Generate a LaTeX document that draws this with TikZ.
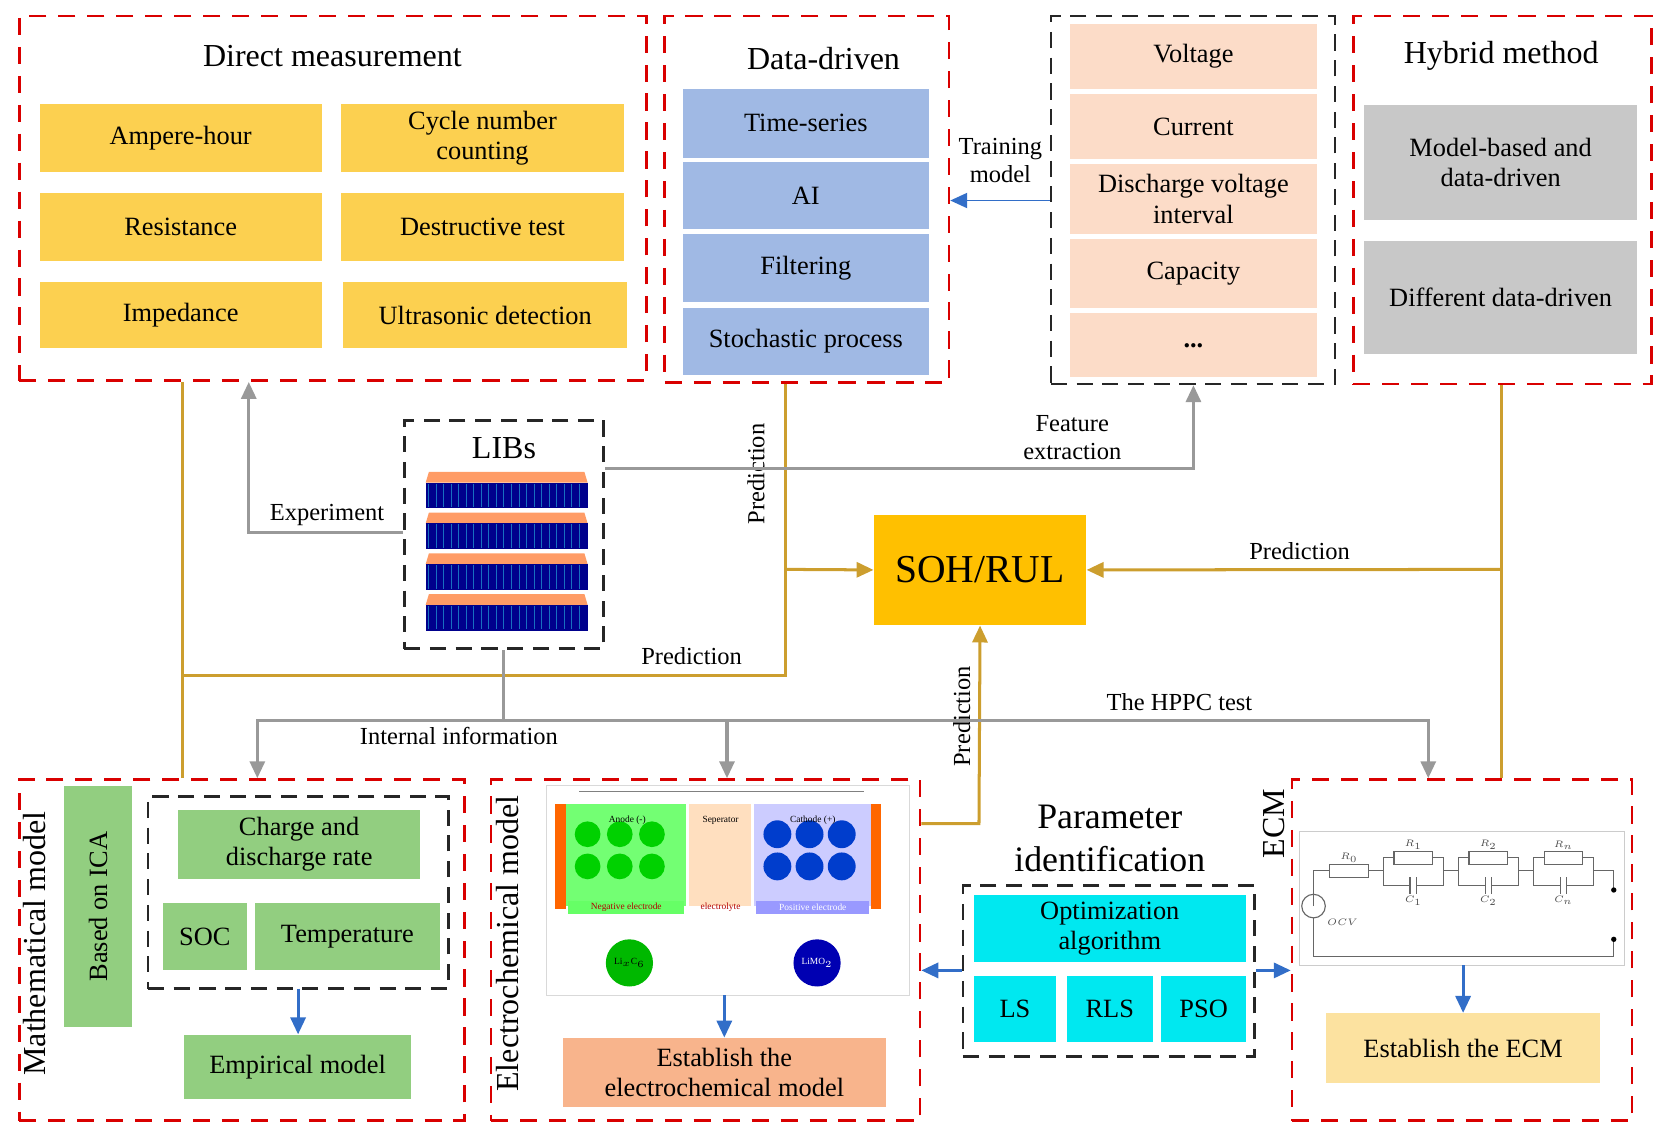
\documentclass[tikz,border=0pt]{standalone}
\usepackage{fontspec}
\setmainfont{Liberation Serif}
\usetikzlibrary{arrows.meta}
\definecolor{cyel}{RGB}{252,208,80}
\definecolor{cblu}{RGB}{160,185,228}
\definecolor{cpch}{RGB}{252,220,200}
\definecolor{cgry}{RGB}{200,200,200}
\definecolor{cgrn}{RGB}{146,206,128}
\definecolor{ccyn}{RGB}{0,232,240}
\definecolor{cgold}{RGB}{204,158,46}
\definecolor{csoh}{RGB}{255,192,0}
\definecolor{cblarr}{RGB}{50,110,200}
\definecolor{corg}{RGB}{248,180,140}
\definecolor{cecm}{RGB}{252,226,160}
\begin{document}
\begin{tikzpicture}[x=0.02cm,y=-0.02cm,
 reddash/.style={draw=red!85!black,line width=1.4pt,dash pattern=on 0.32cm off 0.22cm},
 blkdash/.style={draw=black!85,line width=1.4pt,dash pattern=on 0.3cm off 0.18cm},
 bx/.style={inner sep=1pt,align=center,font=\fontsize{14}{16}\selectfont},
 yel/.style={bx,fill=cyel},
 blu/.style={bx,fill=cblu},
 pch/.style={bx,fill=cpch},
 gry/.style={bx,fill=cgry},
 grn/.style={bx,fill=cgrn},
 cyn/.style={bx,fill=ccyn},
 ttl/.style={font=\fontsize{17}{19}\selectfont,align=center},
 lbl/.style={font=\fontsize{13}{15}\selectfont,align=center},
 gold/.style={draw=cgold,line width=1.6pt},
 goldarr/.style={gold,-{Triangle[length=9pt,width=8pt]}},
 garr/.style={draw=gray!80,line width=1.6pt,-{Triangle[length=9pt,width=8pt]}},
 barr/.style={draw=cblarr,line width=1.6pt,-{Triangle[length=9pt,width=8pt]}}]
\newcommand\bx[7]{\node[#6,minimum width={(#4-#2)*0.02cm},minimum height={(#5-#3)*0.02cm}] (#1) at ({(#2+#4)/2},{(#3+#5)/2}) {#7};}
\useasboundingbox (0,0) rectangle (1550,1046);
% ---- top frames
\bx{dm}{18}{15}{603}{355}{reddash}{}
\node[ttl] (dmt) at (310,52) {Direct measurement};
\bx{a1}{37}{97}{300}{160}{yel}{Ampere-hour}
\bx{a2}{318}{97}{582}{160}{yel}{Cycle number\\counting}
\bx{a3}{37}{180}{300}{243}{yel}{Resistance}
\bx{a4}{318}{180}{582}{243}{yel}{Destructive test}
\bx{a5}{37}{263}{300}{325}{yel}{Impedance}
\bx{a6}{320}{263}{585}{325}{yel}{Ultrasonic detection}
\bx{dd}{620}{15}{885}{357}{reddash}{}
\node[ttl] (ddt) at (768,55) {Data-driven};
\bx{b1}{637}{83}{866}{147}{blu}{Time-series}
\bx{b2}{637}{151}{866}{214}{blu}{AI}
\bx{b3}{637}{218}{866}{282}{blu}{Filtering}
\bx{b4}{637}{287}{866}{350}{blu}{Stochastic process}
\bx{fe}{980}{15}{1245}{358}{blkdash}{}
\bx{c1}{998}{22}{1228}{83}{pch}{Voltage}
\bx{c2}{998}{88}{1228}{148}{pch}{Current}
\bx{c3}{998}{153}{1228}{218}{pch}{Discharge voltage\\interval}
\bx{c4}{998}{223}{1228}{287}{pch}{Capacity}
\bx{c5}{998}{292}{1228}{352}{pch}{\textbf{...}}
\bx{hy}{1262}{15}{1540}{358}{reddash}{}
\node[ttl] (hyt) at (1400,52) {Hybrid method};
\bx{h1}{1272}{98}{1527}{205}{gry}{Model-based and\\data-driven}
\bx{h2}{1272}{225}{1527}{330}{gry}{Different data-driven}
\draw[barr,line width=1pt] (fe.west |- 0,187) -- (dd.east |- 0,187);
\node[lbl] (tm) at (933,150) {Training\\model};
% ---- LIBs
\bx{libs}{377}{392}{563}{605}{blkdash}{}
\node[ttl] (libt) at (470,418) {LIBs};
\foreach \yy in {440,478,516,554}{
 \fill[orange!70!red!60!white] (400,\yy) -- (545,\yy) -- (548,\yy+10) -- (397,\yy+10) -- cycle;
 \fill[blue!55!black] (397,\yy+10) rectangle (548,\yy+34);
 \foreach \xx in {400,407,...,545} \draw[cyan!50!blue,line width=0.5pt] (\xx,\yy+11) -- (\xx,\yy+33);
}
% ---- SOH
\bx{soh}{815}{480}{1013}{583}{bx,fill=csoh}{\fontsize{21}{24}\selectfont SOH/RUL}
% ---- bottom frames
\bx{mm}{18}{727}{433}{1045}{reddash}{}
\node[ttl,rotate=90] (mmt) at (32,880) {Mathematical model};
\bx{ica}{60}{733}{123}{958}{grn}{}
\node[bx,rotate=90] at (ica) {Based on ICA};
\bx{mi}{138}{743}{418}{922}{blkdash}{}
\bx{g1}{166}{755}{392}{820}{grn}{Charge and\\discharge rate}
\bx{g2}{152}{842}{230}{905}{grn}{SOC}
\bx{g3}{238}{842}{410}{905}{grn}{Temperature}
\bx{g4}{172}{965}{383}{1025}{grn}{Empirical model}
\draw[barr] (278,922) -- (g4.north -| 278,0);
\bx{em}{458}{727}{858}{1045}{reddash}{}
\node[ttl,rotate=90] (emt) at (473,880) {Electrochemical model};
\bx{img}{510}{732}{848}{928}{draw=gray!30,fill=white}{}
\fill[green!55!white] (528,750) rectangle (640,845);
\fill[orange!25!white] (643,750) rectangle (700,845);
\fill[blue!20!white] (703,750) rectangle (812,845);
\fill[orange!80!red] (518,750) rectangle (528,848);
\fill[orange!80!red] (812,750) rectangle (822,848);
\foreach \xx in {548,578,608}\foreach \yy in {778,808}\fill[green!70!black!60!green] (\xx,\yy) circle (12);
\foreach \xx in {725,755,785}\foreach \yy in {778,808}\fill[blue!70!cyan!80!black] (\xx,\yy) circle (13);
\node[font=\tiny] at (585,765) {Anode (-)};
\node[font=\tiny] at (672,765) {Seperator};
\node[font=\tiny] at (758,765) {Cathode (+)};
\fill[green!60!white] (530,840) rectangle (638,852);
\node[font=\tiny,text=red!70!black] at (584,846) {Negative electrode};
\node[font=\tiny,text=red!70!black] at (672,846) {electrolyte};
\fill[blue!40!white] (705,840) rectangle (810,852);
\node[font=\tiny,text=white] at (758,846) {Positive electrode};
\fill[green!60!black!70!green] (587,898) circle (22);
\node[font=\tiny] at (587,898) {Li$_x$C$_6$};
\fill[blue!70!black] (762,898) circle (22);
\node[font=\tiny,text=white] at (762,898) {LiMO$_2$};
\draw[gray,line width=0.4pt] (540,738) -- (806,738);
\bx{e1}{525}{968}{826}{1032}{bx,fill=corg}{Establish the\\electrochemical model}
\draw[barr] (e1.north |- img.south) -- (e1.north);
% parameter identification
\node[font=\fontsize{19}{23}\selectfont,align=center] (pit) at (1035,782) {Parameter\\identification};
\bx{pi}{898}{826}{1170}{985}{blkdash}{}
\bx{p1}{908}{835}{1162}{897}{cyn}{Optimization\\algorithm}
\bx{p2}{908}{910}{985}{972}{cyn}{LS}
\bx{p3}{995}{910}{1075}{972}{cyn}{RLS}
\bx{p4}{1083}{910}{1162}{972}{cyn}{PSO}
\draw[barr] (pi.west |- 0,905) -- (em.east |- 0,905);
% ECM
\bx{ecm}{1205}{727}{1522}{1045}{reddash}{}
\node[ttl,rotate=90] (ecmt) at (1188,768) {ECM};
\draw[barr] (pi.east |- 0,905) -- (ecm.west |- 0,905);
\bx{circ}{1212}{775}{1515}{900}{draw=gray!40,fill=white}{}
\begin{scope}[draw=gray!80!black,line width=0.6pt]
\draw (1225,845) -- (1225,812) -- (1240,812);
\draw (1240,806) rectangle (1276,818);
\draw (1276,812) -- (1290,812);
\foreach \xx in {1290,1360,1430}{
 \draw (\xx,812) -- (\xx,800) -- (\xx+10,800); \draw (\xx+10,794) rectangle (\xx+46,806); \draw (\xx+46,800) -- (\xx+56,800) -- (\xx+56,812) -- (\xx+70,812);
 \draw (\xx,812) -- (\xx,826) -- (\xx+25,826) (\xx+25,818) -- (\xx+25,834) (\xx+31,818) -- (\xx+31,834) (\xx+31,826) -- (\xx+56,826) -- (\xx+56,812);}
\draw (1500,812) -- (1505,812) -- (1505,828);
\draw (1225,845) circle (11);
\draw (1225,856) -- (1225,892) -- (1505,892) -- (1505,878);
\fill (1505,830) circle (2.5); \fill (1505,876) circle (2.5);
\end{scope}
\node[font=\tiny,text=gray!60!black] at (1252,860) {$OCV$};
\node[font=\tiny,text=gray!60!black] at (1258,800) {$R_0$};
\node[font=\tiny,text=gray!60!black] at (1318,788) {$R_1$};
\node[font=\tiny,text=gray!60!black] at (1388,788) {$R_2$};
\node[font=\tiny,text=gray!60!black] at (1458,788) {$R_n$};
\node[font=\tiny,text=gray!60!black] at (1318,840) {$C_1$};
\node[font=\tiny,text=gray!60!black] at (1388,840) {$C_2$};
\node[font=\tiny,text=gray!60!black] at (1458,840) {$C_n$};
\bx{ec1}{1237}{945}{1492}{1010}{bx,fill=cecm}{Establish the ECM}
\draw[barr] (circ.south -| ec1.north) -- (ec1.north);
% ---- gold connectors
\coordinate (j1) at (170,630);
\coordinate (j2) at (733,630);
\coordinate (j3) at (733,531);
\draw[gold] (dm.south -| j1) -- (mm.north -| j1);
\draw[gold] (j1) -- (j2) -- (dd.south -| j2);
\draw[goldarr] (j3) -- (soh.west);
\node[lbl] at (645,612) {Prediction};
\node[lbl,rotate=90] at (705,442) {Prediction};
\coordinate (j4) at (1400,531);
\draw[gold] (hy.south -| j4) -- (ecm.north -| j4);
\draw[goldarr] (j4) -- (soh.east);
\node[lbl] at (1212,514) {Prediction};
\coordinate (j5) at (913,768);
\draw[goldarr] (em.east |- j5) -- (j5) -- (soh.south);
\node[lbl,rotate=90] at (897,668) {Prediction};
% ---- gray connectors
\coordinate (k1) at (1113,437);
\draw[garr] (libs.east |- k1) -- (k1) -- (fe.south -| k1);
\node[lbl] at (1000,408) {Feature\\extraction};
\coordinate (k2) at (232,497);
\draw[garr] (libs.west |- k2) -- (k2) -- (dm.south -| k2);
\node[lbl] at (305,480) {Experiment};
\coordinate (k3) at (470,672);
\draw[gray!80,line width=1.6pt] (libs.south) -- (k3);
\draw[garr] (k3) -- (240,672) -- (mm.north -| 240,0);
\draw[garr] (k3) -- (678,672) -- (em.north -| 678,0);
\draw[garr] (678,672) -- (1332,672) -- (ecm.north -| 1332,0);
\node[lbl] at (428,686) {Internal information};
\node[lbl] at (1100,655) {The HPPC test};
\end{tikzpicture}
\end{document}
